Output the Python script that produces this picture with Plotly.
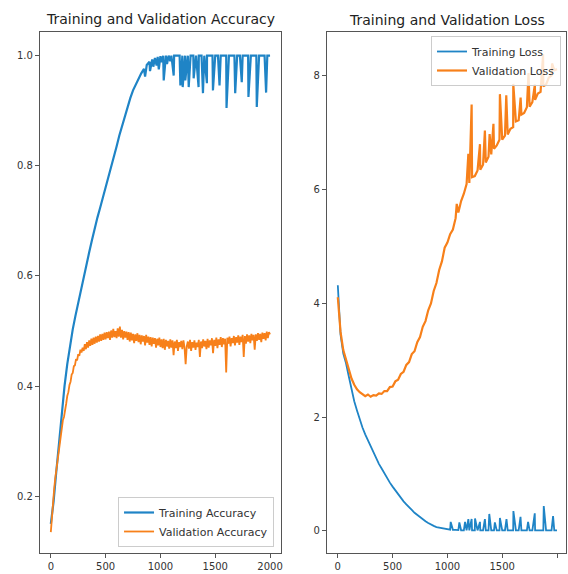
import plotly.graph_objects as go

# ---------------- data ----------------
epochs_25 = list(range(0, 2001, 25))
epochs_10 = list(range(0, 2001, 10))

train_acc = [
    0.15, 0.19, 0.245, 0.30, 0.355, 0.40, 0.44, 0.475, 0.503,
    0.528, 0.552, 0.576, 0.598, 0.62, 0.643, 0.665, 0.687,
    0.706, 0.724, 0.742, 0.759, 0.777, 0.795, 0.815, 0.835,
    0.855, 0.873, 0.89, 0.907, 0.923, 0.937, 0.948, 0.958,
    0.968, 0.976, 0.983, 0.989, 0.993, 0.996, 0.998, 0.999,
    1.0, 1.0, 1.0, 1.0, 1.0, 1.0, 1.0, 1.0, 1.0, 1.0,
    1.0, 1.0, 1.0, 1.0, 1.0, 1.0, 1.0, 1.0, 1.0, 1.0,
    1.0, 1.0, 1.0, 1.0, 1.0, 1.0, 1.0, 1.0, 1.0, 1.0,
    1.0, 1.0, 1.0, 1.0, 1.0, 1.0, 1.0, 1.0, 1.0, 1.0,
]
train_acc_dip_epochs = [860, 905, 935, 965, 985, 1010, 1030, 1060, 1090, 1121, 1182, 1203,
                        1227, 1258, 1303, 1348, 1388, 1424, 1479, 1539, 1603, 1682,
                        1742, 1803, 1879, 1964]
train_acc_dip_values = [0.962, 0.972, 0.980, 0.982, 0.975, 0.988, 0.955, 0.985, 0.990, 0.964,
                        0.946, 0.943, 0.955, 0.943, 0.959, 0.943, 0.932, 0.950, 0.937,
                        0.946, 0.905, 0.932, 0.952, 0.925, 0.907, 0.933]

val_acc = [
    0.135, 0.165, 0.19, 0.212, 0.232, 0.247, 0.262, 0.283, 0.298, 0.312,
    0.322, 0.338, 0.344, 0.361, 0.368, 0.382, 0.389, 0.402, 0.408, 0.421,
    0.424, 0.436, 0.438, 0.449, 0.447, 0.458, 0.455, 0.466, 0.461, 0.470,
    0.464, 0.476, 0.467, 0.480, 0.470, 0.483, 0.473, 0.486, 0.475, 0.488,
    0.477, 0.490, 0.479, 0.491, 0.481, 0.494, 0.482, 0.495, 0.484, 0.497,
    0.485, 0.498, 0.487, 0.499, 0.484, 0.501, 0.488, 0.504, 0.489, 0.500,
    0.487, 0.505, 0.490, 0.508, 0.488, 0.502, 0.485, 0.500, 0.488, 0.499,
    0.484, 0.498, 0.481, 0.497, 0.483, 0.495, 0.478, 0.494, 0.482, 0.496,
    0.480, 0.493, 0.476, 0.492, 0.481, 0.491, 0.474, 0.493, 0.479, 0.490,
    0.475, 0.489, 0.472, 0.488, 0.477, 0.487, 0.470, 0.486, 0.474, 0.488,
    0.471, 0.485, 0.469, 0.486, 0.466, 0.484, 0.472, 0.482, 0.468, 0.485,
    0.470, 0.483, 0.456, 0.481, 0.469, 0.484, 0.464, 0.480, 0.471, 0.482,
    0.467, 0.483, 0.470, 0.440, 0.472, 0.481, 0.468, 0.484, 0.464, 0.480,
    0.470, 0.483, 0.466, 0.479, 0.471, 0.484, 0.453, 0.481, 0.469, 0.485,
    0.472, 0.482, 0.467, 0.486, 0.470, 0.483, 0.474, 0.487, 0.460, 0.484,
    0.473, 0.488, 0.469, 0.485, 0.475, 0.489, 0.471, 0.487, 0.476, 0.486,
    0.425, 0.488, 0.477, 0.490, 0.472, 0.487, 0.478, 0.491, 0.474, 0.489,
    0.479, 0.492, 0.475, 0.490, 0.480, 0.493, 0.453, 0.491, 0.477, 0.494,
    0.481, 0.492, 0.478, 0.495, 0.483, 0.493, 0.466, 0.494, 0.482, 0.496,
    0.484, 0.495, 0.480, 0.497, 0.486, 0.496, 0.483, 0.499, 0.487, 0.498,
    0.494,
]

train_loss = [
    4.32, 3.45, 3.12, 2.95, 2.72, 2.48, 2.28, 2.12, 1.96,
    1.82, 1.70, 1.59, 1.48, 1.37, 1.27, 1.18, 1.10,
    1.01, 0.93, 0.85, 0.78, 0.71, 0.65, 0.58, 0.52,
    0.47, 0.41, 0.37, 0.32, 0.28, 0.24, 0.20, 0.17,
    0.14, 0.11, 0.09, 0.07, 0.06, 0.05, 0.04, 0.03,
    0.025, 0.02, 0.018, 0.015, 0.012, 0.011, 0.010, 0.010, 0.010, 0.010,
    0.010, 0.010, 0.010, 0.010, 0.010, 0.010, 0.010, 0.010, 0.010, 0.010,
    0.010, 0.010, 0.010, 0.010, 0.010, 0.010, 0.010, 0.010, 0.010, 0.010,
    0.010, 0.010, 0.010, 0.010, 0.010, 0.010, 0.010, 0.010, 0.010, 0.010,
]
train_loss_spike_epochs = [1030, 1109, 1161, 1191, 1221, 1252, 1297, 1342, 1382, 1433,
                           1479, 1539, 1602, 1667, 1736, 1797, 1879, 1964]
train_loss_spike_values = [0.16, 0.15, 0.16, 0.21, 0.21, 0.22, 0.16, 0.21, 0.30, 0.15,
                           0.23, 0.21, 0.35, 0.25, 0.16, 0.31, 0.44, 0.26]

val_loss = [
    4.11, 3.50, 3.18, 3.00, 2.82, 2.68, 2.57, 2.49, 2.44,
    2.41, 2.37, 2.40, 2.36, 2.39, 2.38, 2.42, 2.41,
    2.46, 2.46, 2.53, 2.54, 2.63, 2.66, 2.76, 2.80,
    2.92, 2.97, 3.11, 3.16, 3.32, 3.41, 3.59, 3.69,
    3.88, 4.00, 4.22, 4.36, 4.59, 4.74, 4.98, 5.07,
    5.22, 5.30, 5.50, 5.60, 5.80, 5.93, 6.10, 6.12,
    6.22, 6.24, 6.34, 6.35, 6.44, 6.48, 6.58, 6.62,
    6.72, 6.78, 6.88, 6.88, 6.95, 6.97, 7.07, 7.10,
    7.20, 7.22, 7.32, 7.35, 7.45, 7.46, 7.54, 7.58,
    7.69, 7.72, 7.82, 7.85, 7.97, 8.01, 8.10, 8.12,
]
val_loss_spike_epochs = [1085, 1191, 1221, 1297, 1342, 1385, 1420, 1479, 1537, 1601,
                         1668, 1740, 1798, 1873, 1955]
val_loss_spike_values = [5.75, 6.63, 7.50, 6.80, 7.04, 6.98, 7.16, 7.68, 7.66, 7.86,
                         7.62, 8.05, 7.85, 8.38, 8.22]

x_tick_vals = [0, 500, 1000, 1500, 2000]
x_tick_text = ["0", "500", "1000", "1500", "2000"]
acc_tick_vals = [0.2, 0.4, 0.6, 0.8, 1.0]
acc_tick_text = ["0.2", "0.4", "0.6", "0.8", "1.0"]
loss_tick_vals = [0, 2, 4, 6, 8]
loss_tick_text = ["0", "2", "4", "6", "8"]


def merge(bx, by, sx, sy):
    pts = sorted(zip(list(bx) + list(sx), list(by) + list(sy)))
    return [p[0] for p in pts], [p[1] for p in pts]


BLUE = "#1f84c6"
ORANGE = "#f7801a"
FONT = "DejaVu Sans"
W, H = 568, 574
LW = 1.8

ta_x, ta_y = merge(epochs_25, train_acc, train_acc_dip_epochs, train_acc_dip_values)
tl_x, tl_y = merge(epochs_25, train_loss, train_loss_spike_epochs, train_loss_spike_values)
vl_x, vl_y = merge(epochs_25, val_loss, val_loss_spike_epochs, val_loss_spike_values)

fig = go.Figure()
fig.add_trace(go.Scatter(x=ta_x, y=ta_y, mode="lines", name="Training Accuracy",
                         line=dict(color=BLUE, width=2.2), xaxis="x", yaxis="y", legend="legend"))
fig.add_trace(go.Scatter(x=epochs_10, y=val_acc, mode="lines", name="Validation Accuracy",
                         line=dict(color=ORANGE, width=LW), xaxis="x", yaxis="y", legend="legend"))
fig.add_trace(go.Scatter(x=tl_x, y=tl_y, mode="lines", name="Training Loss",
                         line=dict(color=BLUE, width=LW), xaxis="x2", yaxis="y2", legend="legend2"))
fig.add_trace(go.Scatter(x=vl_x, y=vl_y, mode="lines", name="Validation Loss",
                         line=dict(color=ORANGE, width=2.2), xaxis="x2", yaxis="y2", legend="legend2"))

ydom = [1 - 553 / H, 1 - 32 / H]
axis_common = dict(showline=True, linecolor="#555", linewidth=1, mirror=True,
                   ticks="outside", ticklen=4, tickwidth=1, tickcolor="#555",
                   showgrid=False, zeroline=False,
                   tickfont=dict(family=FONT, size=10, color="#333"))

legend_common = dict(bgcolor="rgba(255,255,255,0.8)", bordercolor="#cccccc", borderwidth=1,
                     font=dict(family=FONT, size=11, color="#333"),
                     tracegroupgap=0, itemwidth=30)

fig.update_layout(
    width=W, height=H,
    margin=dict(l=0, r=0, t=0, b=0),
    paper_bgcolor="white", plot_bgcolor="white",
    showlegend=True,
    xaxis=dict(domain=[40 / W, 282 / W], range=[-100, 2100], anchor="y",
               tickvals=x_tick_vals, ticktext=x_tick_text, **axis_common),
    yaxis=dict(domain=ydom, range=[0.097, 1.043], anchor="x",
               tickvals=acc_tick_vals, ticktext=acc_tick_text, **axis_common),
    xaxis2=dict(domain=[328 / W, 1.0], range=[-100, 2082], anchor="y2",
                tickvals=x_tick_vals, ticktext=x_tick_text, **axis_common),
    yaxis2=dict(domain=ydom, range=[-0.387, 8.773], anchor="x2",
                tickvals=loss_tick_vals, ticktext=loss_tick_text, **axis_common),
    legend=dict(x=275 / W, y=1 - 547 / H, xanchor="right", yanchor="bottom", **legend_common),
    legend2=dict(x=563 / W, y=1 - 36 / H, xanchor="right", yanchor="top", **legend_common),
    annotations=[
        dict(text="Training and Validation Accuracy", x=161 / W, y=1 - 19 / H,
             xref="paper", yref="paper", showarrow=False, xanchor="center", yanchor="middle",
             font=dict(family=FONT, size=14, color="#222")),
        dict(text="Training and Validation Loss", x=449 / W, y=1 - 20 / H,
             xref="paper", yref="paper", showarrow=False, xanchor="center", yanchor="middle",
             font=dict(family=FONT, size=14, color="#222")),
    ],
)

fig.write_html("out.html",
               config={"displayModeBar": False},
               post_script="document.body.style.margin='0';document.body.style.overflow='hidden';")
